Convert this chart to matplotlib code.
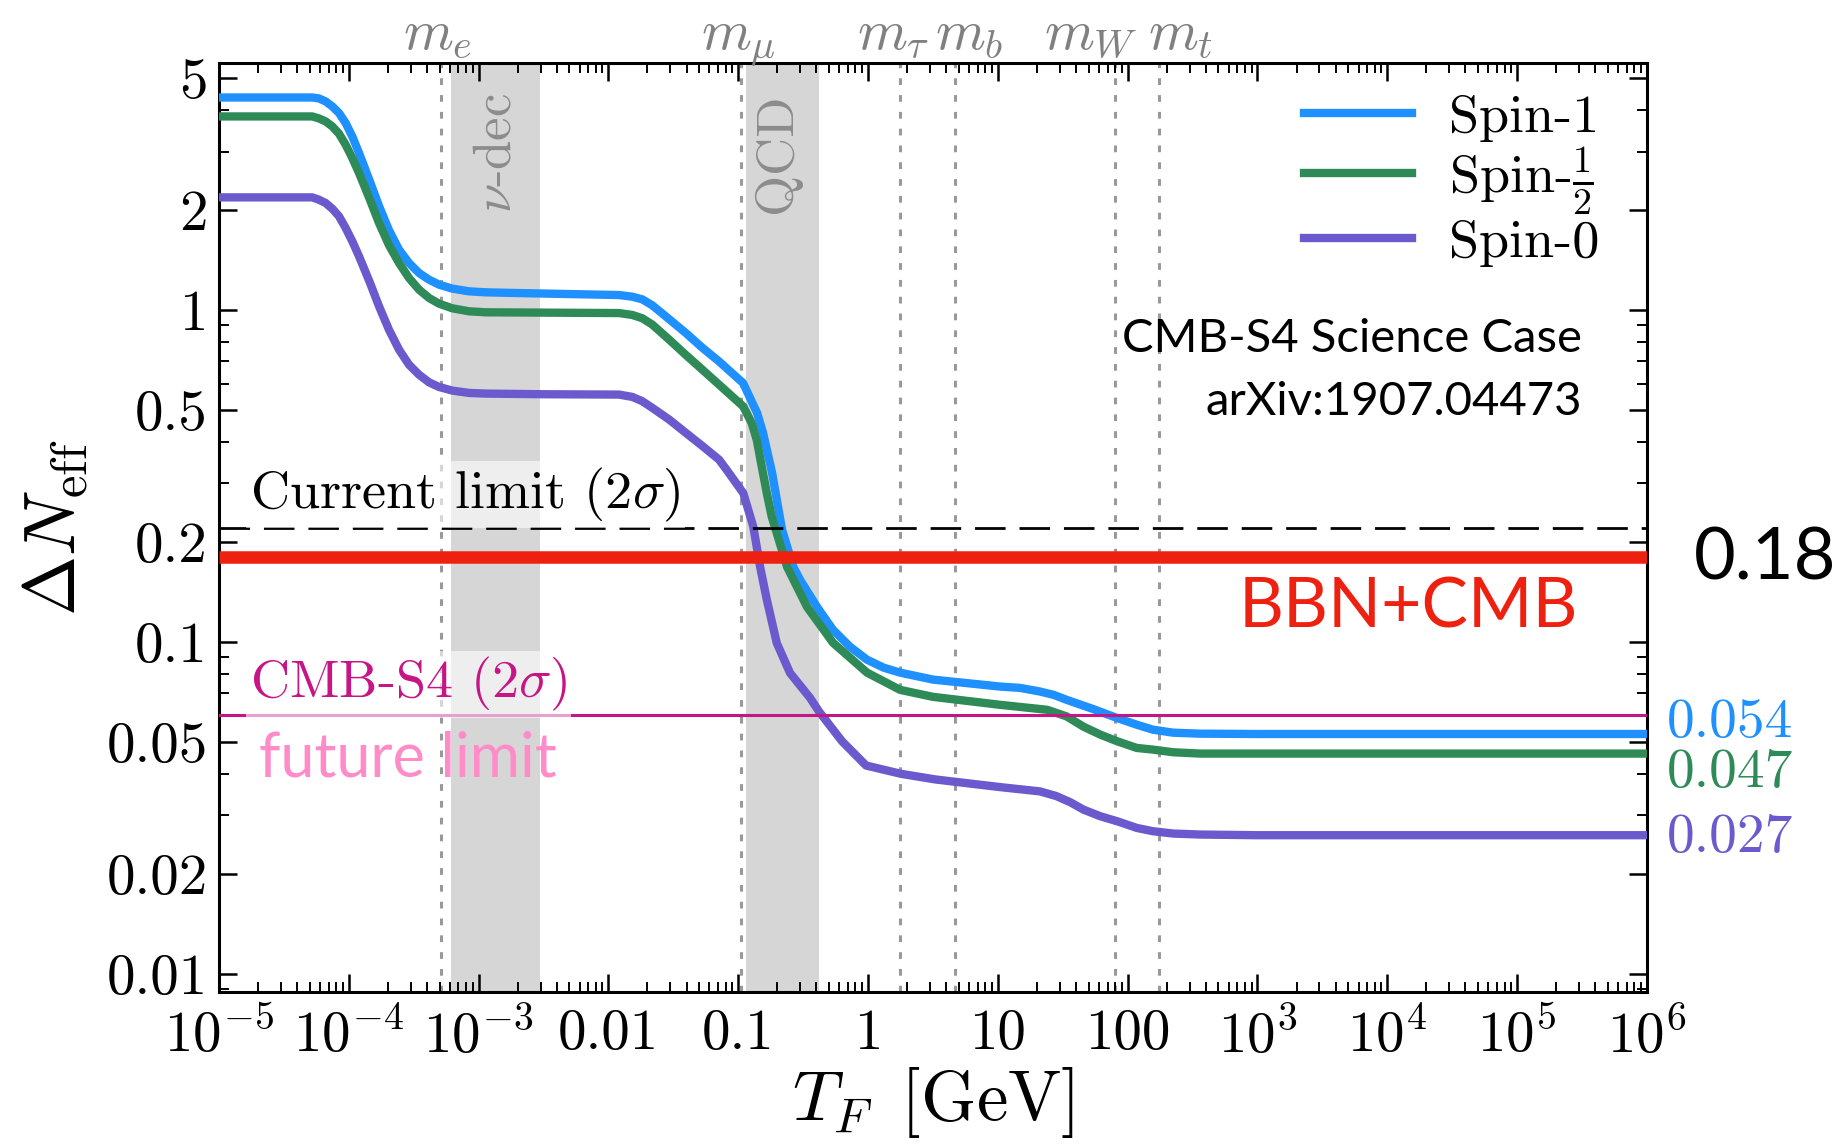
import numpy as np
import matplotlib
matplotlib.use("Agg")
import matplotlib.pyplot as plt
from matplotlib.ticker import LogLocator, NullFormatter, FixedLocator

plt.rcParams['font.family'] = 'serif'
plt.rcParams['font.serif'] = ['cmr10']
plt.rcParams['mathtext.fontset'] = 'cm'
plt.rcParams['axes.unicode_minus'] = False

# curves, as (log10 T_F [GeV], log10 Delta N_eff)
logT_s1 = [-5.0, -4.281, -4.23, -4.178, -4.127, -4.075, -4.024, -3.973, -3.921, -3.84,
           -3.767, -3.69, -3.613, -3.536, -3.459, -3.382, -3.305, -3.202, -3.074, -2.946,
           -2.69, -2.3, -1.918, -1.816, -1.739, -1.662, -1.559, -1.405, -1.276, -1.148,
           -1.02, -0.963, -0.855, -0.809, -0.739, -0.662, -0.576, -0.524, -0.393, -0.27,
           -0.139, -0.008, 0.12, 0.247, 0.50, 1.017, 1.171, 1.325, 1.43, 1.53,
           1.736, 1.92, 2.07, 2.195, 2.35, 2.56, 3.0, 6.0]
logN_s1 = [0.6404, 0.6404, 0.6376, 0.6285, 0.6135, 0.5934, 0.5633, 0.523, 0.473, 0.39,
           0.313, 0.24, 0.1817, 0.1416, 0.1114, 0.0914, 0.0763, 0.0643, 0.0562, 0.0532,
           0.051, 0.048, 0.045, 0.040, 0.032, 0.014, -0.019, -0.069, -0.114, -0.155,
           -0.2, -0.22, -0.31, -0.37, -0.491, -0.663, -0.774, -0.813, -0.895, -0.964,
           -1.015, -1.054, -1.078, -1.093, -1.114, -1.135, -1.139, -1.15, -1.16, -1.175,
           -1.203, -1.23, -1.25, -1.265, -1.274, -1.277, -1.278, -1.278]

logT_s12 = [-5.0, -4.281, -4.23, -4.178, -4.127, -4.075, -4.024, -3.973, -3.921, -3.84,
            -3.767, -3.69, -3.613, -3.536, -3.459, -3.382, -3.305, -3.202, -3.074, -2.946,
            -2.5, -1.918, -1.816, -1.739, -1.662, -1.533, -1.405, -1.276, -1.148, -1.02,
            -0.961, -0.896, -0.857, -0.819, -0.78, -0.742, -0.703, -0.624, -0.47, -0.27,
            -0.008, 0.247, 0.50, 1.017, 1.38, 1.53, 1.66, 1.79, 1.92, 2.07,
            2.195, 2.35, 2.56, 3.0, 6.0]
logN_s12 = [0.5833, 0.5833, 0.5773, 0.5683, 0.5532, 0.531, 0.498, 0.458, 0.4127, 0.335,
            0.262, 0.195, 0.1416, 0.0964, 0.0613, 0.0362, 0.019, 0.005, -0.004, -0.007,
            -0.008, -0.0093, -0.015, -0.025, -0.044, -0.089, -0.135, -0.18, -0.225, -0.27,
            -0.291, -0.341, -0.392, -0.472, -0.552, -0.623, -0.673, -0.774, -0.895, -1.003,
            -1.093, -1.145, -1.166, -1.19, -1.205, -1.225, -1.256, -1.28, -1.30, -1.32,
            -1.325, -1.333, -1.337, -1.337, -1.337]

logT_s0 = [-5.0, -4.281, -4.23, -4.178, -4.127, -4.075, -4.024, -3.973, -3.921, -3.84,
           -3.767, -3.69, -3.613, -3.536, -3.459, -3.382, -3.305, -3.202, -3.074, -2.946,
           -2.5, -1.918, -1.816, -1.739, -1.662, -1.533, -1.405, -1.276, -1.148, -1.089,
           -0.961, -0.884, -0.832, -0.78, -0.703, -0.601, -0.447, -0.378, -0.2, -0.015,
           0.254, 0.52, 1.017, 1.325, 1.45, 1.56, 1.66, 1.79, 1.92, 2.07, 2.195,
           2.35, 2.56, 3.0, 6.0]
logN_s0 = [0.3394, 0.3394, 0.3323, 0.3223, 0.3052, 0.2822, 0.247, 0.207, 0.1617, 0.085,
           0.011, -0.06, -0.1195, -0.165, -0.195, -0.218, -0.232, -0.243, -0.25, -0.252,
           -0.254, -0.255, -0.262, -0.275, -0.295, -0.33, -0.37, -0.41, -0.451, -0.482,
           -0.552, -0.653, -0.773, -0.873, -1.004, -1.094, -1.169, -1.21, -1.30, -1.373,
           -1.398, -1.415, -1.438, -1.451, -1.465, -1.484, -1.506, -1.526, -1.541, -1.561,
           -1.571, -1.578, -1.581, -1.583, -1.583]

spin_labels = [r'Spin-1', r'Spin-$\frac{1}{2}$', r'Spin-0']
spin_colors = ['#1e90ff', '#2e8b57', '#6a5acd']
final_labels = ['0.054', '0.047', '0.027']
final_label_y = [0.0518, 0.0366, 0.0233]

mass_names = [r'$m_e$', r'$m_\mu$', r'$m_\tau$', r'$m_b$', r'$m_W$', r'$m_t$']
mass_vals = [5.11e-4, 0.1057, 1.777, 4.7, 80.4, 173.0]
mass_label_x = [4.8e-4, 0.101, 1.56, 6.0, 52.0, 254.0]

bands = [(6.1e-4, 2.97e-3), (0.115, 0.42)]
band_names = [r'$\nu$-dec', 'QCD']
band_text_x = [1.39e-3, 0.2]

current_limit = 0.22
bbn_cmb = 0.18
cmbs4 = 0.06

xticks = [1e-5, 1e-4, 1e-3, 0.01, 0.1, 1, 10, 100, 1e3, 1e4, 1e5, 1e6]
xticklabels = [r'$10^{-5}$', r'$10^{-4}$', r'$10^{-3}$', '0.01', '0.1', '1', '10',
               '100', r'$10^{3}$', r'$10^{4}$', r'$10^{5}$', r'$10^{6}$']
yticks = [0.01, 0.02, 0.05, 0.1, 0.2, 0.5, 1, 2, 5]
yticklabels = ['0.01', '0.02', '0.05', '0.1', '0.2', '0.5', '1', '2', '5']

sans = ['Lato', 'DejaVu Sans']

fig = plt.figure(figsize=(18.34, 11.48), dpi=100)
ax = fig.add_axes([0.1194, 0.1359, 0.7786, 0.8092])
ax.set_xscale('log')
ax.set_yscale('log')
ax.set_xlim(1e-5, 1e6)
ax.set_ylim(0.0088, 5.55)

for (lo, hi) in bands:
    ax.axvspan(lo, hi, color='#d6d6d6', lw=0, zorder=0)
for name, xt in zip(band_names, band_text_x):
    ax.text(xt, 0.903, name, rotation=90, ha='center', va='center', fontsize=38,
            color='#8c8c8c', transform=ax.get_xaxis_transform(), zorder=1)

for m in mass_vals:
    ax.axvline(m, color='#999999', lw=2.2, ls=(0, (2.2, 3.3)), zorder=1)
for name, xl in zip(mass_names, mass_label_x):
    ax.text(xl, 1.016, name, ha='center', va='baseline', fontsize=41,
            color='#808080', transform=ax.get_xaxis_transform())

curves = [(logT_s1, logN_s1), (logT_s12, logN_s12), (logT_s0, logN_s0)]
for (lt, ln), lab, col in zip(curves, spin_labels, spin_colors):
    ax.plot(10 ** np.array(lt), 10 ** np.array(ln), color=col, lw=6,
            label=lab, solid_joinstyle='round', zorder=3)

ax.axhline(current_limit, color='black', lw=2, ls=(0, (11, 5)), zorder=4)
ax.axhline(bbn_cmb, color='#ee2010', lw=9, solid_capstyle='butt', zorder=4)
ax.axhline(cmbs4, color='#c71585', lw=2.2, zorder=4)

ax.text(1.73e-5, 0.253, r'Current limit $(2\sigma)$', fontsize=39, ha='left',
        va='baseline', zorder=5,
        bbox=dict(facecolor='white', alpha=0.6, edgecolor='none', pad=3))
ax.text(1.73e-5, 0.0678, r'CMB-S4 $(2\sigma)$', fontsize=39, color='#c71585',
        ha='left', va='baseline', zorder=5,
        bbox=dict(facecolor='white', alpha=0.6, edgecolor='none', pad=3))
ax.text(2.03e-5, 0.0392, 'future limit', fontsize=44, color='#ff8cc8',
        family=sans, ha='left', va='baseline', zorder=5)
ax.text(0.9517, 0.1102, 'BBN+CMB', fontsize=50, color='#ee2010',
        family=sans, ha='right', va='baseline',
        transform=ax.get_yaxis_transform(), zorder=5)
ax.text(1.0329, 0.1538, '0.18', fontsize=52, color='black',
        family=sans, ha='left', va='baseline',
        transform=ax.get_yaxis_transform(), clip_on=False)
ax.text(0.9545, 0.747, 'CMB-S4 Science Case', fontsize=34, ha='right',
        va='baseline', family=sans, transform=ax.get_yaxis_transform())
ax.text(0.9545, 0.483, 'arXiv:1907.04473', fontsize=34, ha='right',
        va='baseline', family=sans, transform=ax.get_yaxis_transform())

for lab, yv, col in zip(final_labels, final_label_y, spin_colors):
    ax.text(1.014, yv, lab, fontsize=40, color=col, ha='left', va='baseline',
            transform=ax.get_yaxis_transform(), clip_on=False)

leg = ax.legend(loc='upper right', bbox_to_anchor=(0.982, 0.99), frameon=False,
                fontsize=39, handlelength=2.0, handletextpad=0.68,
                labelspacing=0.05, borderaxespad=0)

ax.xaxis.set_major_locator(FixedLocator(xticks))
ax.set_xticklabels(xticklabels)
ax.xaxis.set_minor_locator(LogLocator(base=10, subs=np.arange(2, 10), numticks=100))
ax.xaxis.set_minor_formatter(NullFormatter())
ax.yaxis.set_major_locator(FixedLocator(yticks))
ax.set_yticklabels(yticklabels)
ax.yaxis.set_minor_locator(LogLocator(base=10, subs=np.arange(2, 10), numticks=100))
ax.yaxis.set_minor_formatter(NullFormatter())

ax.tick_params(which='both', direction='in', top=True, right=True, labelsize=41)
ax.tick_params(which='major', length=13, width=1.8)
ax.tick_params(which='minor', length=7.5, width=1.4)
ax.tick_params(axis='x', which='major', pad=12)
ax.tick_params(axis='y', which='major', pad=8)
for sp in ax.spines.values():
    sp.set_linewidth(2.2)

ax.set_xlabel(r'$T_F\ \,[\mathrm{GeV}]$', fontsize=51, labelpad=1)
ax.set_ylabel(r'$\Delta N_{\rm eff}$', fontsize=52, labelpad=12)

fig.savefig('out.png', dpi=100)
